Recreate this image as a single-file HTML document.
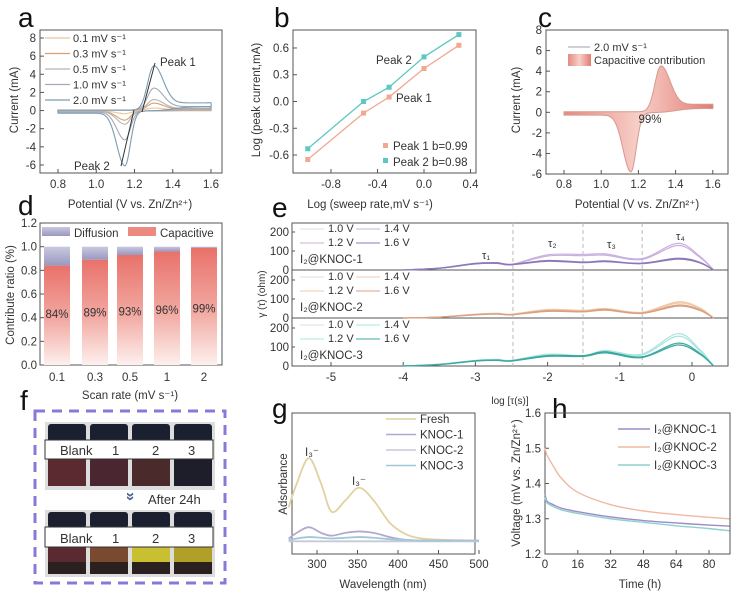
<!DOCTYPE html>
<html><head><meta charset="utf-8"><style>
body{margin:0;background:#fff}
svg{display:block;font-family:"Liberation Sans",Arial,sans-serif}
.t{font-size:11.5px;fill:#333}
.L{font-size:28px;fill:#111}
.lg{font-size:11px;fill:#333}
</style></head><body>
<svg id="fig" width="732" height="595" viewBox="0 0 732 595">
<defs>
<linearGradient id="gBar" x1="0" y1="0" x2="0" y2="1"><stop offset="0" stop-color="#e8726a"/><stop offset="0.55" stop-color="#f2aaa3"/><stop offset="1" stop-color="#fdf0ee"/></linearGradient>
<linearGradient id="gDif" x1="0" y1="0" x2="0" y2="1"><stop offset="0" stop-color="#c8c8e0"/><stop offset="1" stop-color="#9a98c0"/></linearGradient>
<linearGradient id="gCap" x1="0" y1="0" x2="1" y2="0"><stop offset="0" stop-color="#e58a80"/><stop offset="0.5" stop-color="#f7cfc8"/><stop offset="1" stop-color="#e27c74"/></linearGradient>
</defs>
<g id="letters">
<text class="L" x="18" y="27">a</text><text class="L" x="274" y="27">b</text><text class="L" x="538" y="27">c</text>
<text class="L" x="18" y="215">d</text><text class="L" x="272" y="217">e</text><text class="L" x="20" y="410">f</text>
<text class="L" x="272" y="418">g</text><text class="L" x="552" y="418">h</text>
</g>
<g fill="none" stroke="#555" stroke-width="1">
<rect x="40" y="30" width="182" height="143"/>
<rect x="293" y="30" width="183" height="143"/>
<rect x="546" y="30" width="182" height="144"/>
<rect x="40" y="223" width="182" height="142"/>
<rect x="292" y="223" width="436" height="143"/>
<line x1="292" y1="270" x2="728" y2="270"/><line x1="292" y1="318" x2="728" y2="318"/>
<rect x="292" y="413" width="183" height="141"/>
<rect x="545" y="413" width="185" height="141"/>
</g>
<text class="t" transform="translate(18,100) rotate(-90)" text-anchor="middle">Current (mA)</text>
<text class="t" x="130" y="208" text-anchor="middle">Potential (V vs. Zn/Zn²⁺)</text>
<text class="t" transform="translate(260,100) rotate(-90)" text-anchor="middle">Log (peak current,mA)</text>
<text class="t" x="370" y="208" text-anchor="middle">Log (sweep rate,mV s⁻¹)</text>
<text class="t" transform="translate(520,100) rotate(-90)" text-anchor="middle">Current (mA)</text>
<text class="t" x="637" y="208" text-anchor="middle">Potential (V vs. Zn/Zn²⁺)</text>
<text class="t" transform="translate(14,295) rotate(-90)" text-anchor="middle">Contribute ratio (%)</text>
<text class="t" x="130" y="399" text-anchor="middle">Scan rate (mV s⁻¹)</text>
<text class="t" transform="translate(265,294) rotate(-90)" text-anchor="middle" style="font-size:10px">γ (τ) (ohm)</text>
<text class="t" x="510" y="404" text-anchor="middle" style="font-size:10px">log [τ(s)]</text>
<text class="t" transform="translate(287,484) rotate(-90)" text-anchor="middle">Adsorbance</text>
<text class="t" x="383" y="588" text-anchor="middle">Wavelength (nm)</text>
<text class="t" transform="translate(520,483) rotate(-90)" text-anchor="middle">Voltage (mV vs. Zn/Zn²⁺)</text>
<text class="t" x="640" y="588" text-anchor="middle">Time (h)</text>
<g>
<rect x="35" y="411" width="190" height="172" fill="none" stroke="#8a78d8" stroke-width="3" stroke-dasharray="10,7"/>
<rect x="45" y="422" width="170" height="68" fill="#ddd"/>
<rect x="45" y="510" width="170" height="67" fill="#ddd"/>
<g id="vials"></g>
<rect x="45" y="440" width="168" height="19" fill="#fff" stroke="#333"/>
<rect x="45" y="527" width="168" height="20" fill="#fff" stroke="#333"/>
<text class="t" style="font-size:13px" x="60" y="455">Blank</text><text class="t" style="font-size:13px" x="112" y="455">1</text><text class="t" style="font-size:13px" x="152" y="455">2</text><text class="t" style="font-size:13px" x="188" y="455">3</text>
<text class="t" style="font-size:13px" x="60" y="543">Blank</text><text class="t" style="font-size:13px" x="112" y="543">1</text><text class="t" style="font-size:13px" x="152" y="543">2</text><text class="t" style="font-size:13px" x="188" y="543">3</text>
<text x="126" y="502" fill="#4a6090" font-size="16" font-weight="bold" transform="rotate(90 131 497)">»</text>
<text class="t" style="font-size:13px" x="148" y="504">After 24h</text>
</g>
<g id="plots"></g>
</svg>
<script>
const aRates=["0.1 mV s⁻¹","0.3 mV s⁻¹","0.5 mV s⁻¹","1.0 mV s⁻¹","2.0 mV s⁻¹"];
const aPeak1=[0.22,0.74,1.12,2.34,4.7];
const aPeak2=[-0.3,-1.0,-1.45,-3.16,-6.0];
const bX=[-1,-0.52,-0.3,0,0.3];
const bPeak1=[-0.65,-0.13,0.05,0.37,0.63];
const bPeak2=[-0.53,0.0,0.16,0.5,0.75];
const cPeak1=4.3, cPeak2=-5.7;
const dCats=["0.1","0.3","0.5","1","2"];
const dCap=[0.84,0.89,0.93,0.96,0.99];
const eX=[-4,-3.5,-3,-2.7,-2.5,-2,-1.5,-1.2,-0.7,-0.2,0.1,0.3];
const eK1hi=[0,10,35,38,30,80,82,85,60,140,75,0];
const eK1lo=[0,10,35,38,30,50,42,48,36,62,42,0];
const eK2hi=[0,5,20,25,20,45,40,50,30,85,55,0];
const eK2lo=[0,5,18,22,18,38,35,45,26,68,45,0];
const eK3hi=[0,10,30,35,30,62,55,82,62,170,90,0];
const eK3lo=[0,8,28,32,28,55,55,75,48,120,70,0];
const gX=[265,275,290,305,318,335,352,370,390,410,430,460,500];
const gFresh=[0.33,0.5,0.68,0.5,0.3,0.38,0.47,0.38,0.22,0.14,0.11,0.1,0.095];
const gK1=[0.11,0.15,0.19,0.15,0.13,0.15,0.16,0.15,0.12,0.1,0.095,0.095,0.095];
const gK2=[0.09,0.09,0.09,0.09,0.09,0.09,0.09,0.09,0.09,0.09,0.09,0.09,0.09];
const gK3=[0.1,0.11,0.12,0.115,0.11,0.115,0.12,0.115,0.105,0.1,0.095,0.095,0.095];
const hT=[0,1,4,8,16,32,48,64,80,90];
const hK1=[1.37,1.35,1.34,1.33,1.32,1.305,1.295,1.288,1.282,1.279];
const hK2=[1.5,1.48,1.45,1.415,1.375,1.34,1.322,1.312,1.304,1.3];
const hK3=[1.36,1.345,1.335,1.325,1.315,1.3,1.29,1.28,1.272,1.266];
const NS="http://www.w3.org/2000/svg";
const P=document.getElementById('plots');
function mk(tag,at,par){const e=document.createElementNS(NS,tag);for(const k in at)e.setAttribute(k,at[k]);(par||P).appendChild(e);return e;}
function txt(x,y,s,anchor,cls,fill){const e=mk('text',{x:x,y:y,'text-anchor':anchor||'start',class:cls||'t'});if(fill)e.setAttribute('fill',fill);e.textContent=s;return e;}
function smooth(pts){let d="M"+pts[0][0]+","+pts[0][1];for(let i=0;i<pts.length-1;i++){const p0=pts[i-1]||pts[i],p1=pts[i],p2=pts[i+1],p3=pts[i+2]||p2;d+=" C"+(p1[0]+(p2[0]-p0[0])/6)+","+(p1[1]+(p2[1]-p0[1])/6)+" "+(p2[0]-(p3[0]-p1[0])/6)+","+(p2[1]-(p3[1]-p1[1])/6)+" "+p2[0]+","+p2[1];}return d;}
function tick(x1,y1,x2,y2){mk('line',{x1:x1,y1:y1,x2:x2,y2:y2,stroke:'#555'});}
const sig=(v,c,w)=>1/(1+Math.exp(-(v-c)/w));
function cvPts(p1,p2,X,Y,v1,v2){const f=[],r=[];
 for(let v=0.8;v<=1.6001;v+=0.01){const w=(v>v1)?0.07:0.045;f.push([X(v),Y(0.05+p1*Math.exp(-Math.pow((v-v1)/w,2))+p1*0.17*sig(v,v1+0.04,0.03))]);}
 for(let v=1.6;v>=0.7999;v-=0.01){const w=(v<v2)?0.06:0.04;r.push([X(v),Y(-0.05+p2*Math.exp(-Math.pow((v-v2)/w,2))+p1*0.1*sig(v,1.4,0.04)+p2*0.04*(1-sig(v,v2-0.05,0.03)))]);}
 return f.concat(r);}
// a
const Xa=v=>58+(v-0.8)*191.25, Ya=v=>38+(8-v)*9.07;
[0.8,1.0,1.2,1.4,1.6].forEach(v=>{tick(Xa(v),173,Xa(v),169);txt(Xa(v),188,v.toFixed(1),'middle');});
[8,6,4,2,0,-2,-4,-6].forEach(v=>{tick(40,Ya(v),44,Ya(v));txt(36,Ya(v)+4,String(v),'end');});
const aCol=["#e8c89c","#dca070","#b4b4b4","#a4a8b8","#7c9cb0"];
aRates.forEach((r,i)=>{const p=mk('path',{d:smooth(cvPts(aPeak1[i],aPeak2[i],Xa,Ya,1.3,1.15))+"Z",fill:'none',stroke:aCol[i],'stroke-width':1.1});


const ly=38+i*15.5;mk('line',{x1:45,y1:ly,x2:70,y2:ly,stroke:aCol[i],'stroke-width':1.3});txt(73,ly+4,r,'start','lg');});
mk('line',{x1:142,y1:112,x2:155,y2:63,stroke:'#333'});mk('line',{x1:134,y1:110,x2:121,y2:166,stroke:'#333'});
txt(160,66,"Peak 1",'start','t','#5b7a95');txt(74,170,"Peak 2",'start','t','#5b7a95');
// b
const Xb=v=>424+v*116.25, Yb=v=>101.5-v*89.2;
[-0.8,-0.4,0,0.4].forEach(v=>{tick(Xb(v),173,Xb(v),169);txt(Xb(v),188,v.toFixed(1),'middle');});
[0.6,0.3,0,-0.3,-0.6].forEach(v=>{tick(293,Yb(v),297,Yb(v));txt(289,Yb(v)+4,v.toFixed(1),'end');});
[[bPeak1,"#f0a890"],[bPeak2,"#5cc8c0"]].forEach(([s,c],k)=>{
 const pl=mk('polyline',{points:bX.map((x,i)=>Xb(x)+","+Yb(s[i])).join(" "),fill:'none',stroke:c,'stroke-width':1.3});
 
 
 bX.forEach((x,i)=>{const d=mk('rect',{x:Xb(x)-2.5,y:Yb(s[i])-2.5,width:5,height:5,fill:c});
 
 });});
txt(376,64,"Peak 2",'start','t','#7ed8d0');txt(396,102,"Peak 1",'start','t','#f0c0a8');
mk('rect',{x:383,y:143,width:5,height:5,fill:'#f0a890'});txt(393,150,"Peak 1 b=0.99",'start','t');
mk('rect',{x:383,y:158,width:5,height:5,fill:'#5cc8c0'});txt(393,166,"Peak 2 b=0.98",'start','t');
// c
const Xc=v=>564+(v-0.8)*186, Yc=v=>30+(8-v)*10.29;
[0.8,1.0,1.2,1.4,1.6].forEach(v=>{tick(Xc(v),174,Xc(v),170);txt(Xc(v),188,v.toFixed(1),'middle');});
[8,6,4,2,0,-2,-4,-6].forEach(v=>{tick(546,Yc(v),550,Yc(v));txt(542,Yc(v)+4,String(v),'end');});
const cp=mk('path',{d:smooth(cvPts(cPeak1,cPeak2,Xc,Yc,1.32,1.16))+"Z",fill:'url(#gCap)',stroke:'#d89890','stroke-width':1});


mk('line',{x1:568,y1:47,x2:590,y2:47,stroke:'#b0b8c0','stroke-width':1.3});txt(594,51,"2.0 mV s⁻¹",'start','lg');
mk('rect',{x:568,y:54,width:23,height:12,fill:'url(#gCap)'});txt(594,64,"Capacitive contribution",'start','lg');
txt(650,123,"99%",'middle','t');
// d
const Yd=v=>365-v*118.3; const dXc=[57,95,130,167,204];
[0,0.2,0.4,0.6,0.8,1.0,1.2].forEach(v=>{tick(40,Yd(v),44,Yd(v));txt(37,Yd(v)+4,v.toFixed(1),'end');});
dCats.forEach((c,i)=>{const x=dXc[i];tick(x,365,x,361);txt(x,381,c,'middle');
 const df=mk('rect',{x:x-13,y:Yd(1),width:26,height:Yd(dCap[i])-Yd(1),fill:'url(#gDif)'});
 
 
 const b=mk('rect',{x:x-13,y:Yd(dCap[i]),width:26,height:365-Yd(dCap[i]),fill:'url(#gBar)'});
 
 
 txt(x,Yd(0.43+i*0.012)+4,Math.round(dCap[i]*100)+"%",'middle','t','#333');});
mk('rect',{x:42,y:227,width:28,height:9,fill:'url(#gDif)'});txt(74,237,"Diffusion",'start','t');
mk('rect',{x:128,y:227,width:28,height:9,fill:'#ec8a82'});txt(160,237,"Capacitive",'start','t');
// e
const Xe=v=>692+v*72.2; const eBot=[270,318,366]; const Ye=(k,v)=>eBot[k]-v*0.19;
[-5,-4,-3,-2,-1,0].forEach(v=>{tick(Xe(v),366,Xe(v),362);txt(Xe(v),381,String(v),'middle');});
[-2.48,-1.51,-0.69].forEach(v=>mk('line',{x1:Xe(v),y1:223,x2:Xe(v),y2:366,stroke:'#bbb','stroke-dasharray':'4,3'}));
const eSets=[[eK1hi,eK1lo,"#c9b0e0","#8c7ab8","I₂@KNOC-1"],[eK2hi,eK2lo,"#f0c8a8","#d8a080","I₂@KNOC-2"],[eK3hi,eK3lo,"#a8e4de","#3aa8a0","I₂@KNOC-3"]];
eSets.forEach((s,k)=>{[200,100,0].forEach(v=>{txt(289,Ye(k,v)+4,String(v),'end','t');tick(292,Ye(k,v),295,Ye(k,v));});
 [s[0],s[1]].forEach((arr,j)=>{[0,1].forEach(o=>{const p=mk('path',{d:smooth(eX.map((x,i)=>[Xe(x),Ye(k,arr[i]*(1-o*0.08))])),fill:'none',stroke:j?s[3]:s[2],'stroke-width':1.2});
  
  });});
 const top=eBot[k]-47;
 [["1.0 V",300,top+9,"#ddd"],["1.4 V",356,top+9,s[2]],["1.2 V",300,top+23,s[2]],["1.6 V",356,top+23,s[3]]].forEach(l=>{mk('line',{x1:l[1],y1:l[2]-3,x2:l[1]+24,y2:l[2]-3,stroke:l[3]});txt(l[1]+28,l[2],l[0],'start','lg');});
 txt(300,top+40,s[4],'start','t',s[2]);});
txt(482,259,"τ₁",'start','lg');txt(548,247,"τ₂",'start','lg');txt(607,248,"τ₃",'start','lg');txt(676,240,"τ₄",'start','lg');
// g
const Xg=v=>317+(v-300)*0.81, Yg=v=>554-v*141;
[300,350,400,450,500].forEach(v=>{tick(Xg(v),554,Xg(v),550);txt(Xg(v),568,String(v),'middle');});
[[gFresh,"#e2d2a0","Fresh"],[gK1,"#b4a8d0","KNOC-1"],[gK2,"#c8c8d8","KNOC-2"],[gK3,"#a0c8d8","KNOC-3"]].forEach((s,k)=>{
 const p=mk('path',{d:smooth(gX.map((x,i)=>[Xg(x),Yg(s[0][i])])),fill:'none',stroke:s[1],'stroke-width':1.8});
 
 
 const ly=423+k*15.5;mk('line',{x1:386,y1:ly-4,x2:416,y2:ly-4,stroke:s[1],'stroke-width':1.5});txt(420,ly,s[2],'start','t');});
txt(305,456,"I₃⁻",'start','t');txt(352,485,"I₃⁻",'start','t');
// h
const Xh=t=>545+t*2.05, Yh=v=>413+(1.6-v)*352.5;
[0,16,32,48,64,80].forEach(t=>{tick(Xh(t),554,Xh(t),550);txt(Xh(t),568,String(t),'middle');});
[1.6,1.5,1.4,1.3,1.2].forEach(v=>{tick(545,Yh(v),549,Yh(v));txt(541,Yh(v)+4,v.toFixed(1),'end');});
[[hK1,"#9a8cc8","I₂@KNOC-1"],[hK2,"#f0b8a0","I₂@KNOC-2"],[hK3,"#8fd0d0","I₂@KNOC-3"]].forEach((s,k)=>{
 const p=mk('path',{d:smooth(hT.map((t,i)=>[Xh(t),Yh(s[0][i])])),fill:'none',stroke:s[1],'stroke-width':1.4});
 
 
 const ly=433+k*18;mk('line',{x1:618,y1:ly-4,x2:650,y2:ly-4,stroke:s[1],'stroke-width':1.5});txt(654,ly,s[2],'start','t');});
// f vials
const V=document.getElementById('vials');
const liqTop=["#5a2a30","#4a2630","#4a2a2a","#1e1e2a"], liqBot=["#5a2a30","#7a4a30","#c8c030","#b0a028"];
[0,1,2,3].forEach(i=>{const x=48+i*42;
 mk('rect',{x:x,y:424,width:38,height:18,fill:'#1a2030',rx:3},V);mk('rect',{x:x,y:458,width:38,height:28,fill:liqTop[i]},V);
 mk('rect',{x:x,y:512,width:38,height:16,fill:'#1a2030',rx:3},V);mk('rect',{x:x,y:546,width:38,height:16,fill:liqBot[i]},V);mk('rect',{x:x,y:562,width:38,height:12,fill:'#2a2020'},V);});
</script>
</body></html>
